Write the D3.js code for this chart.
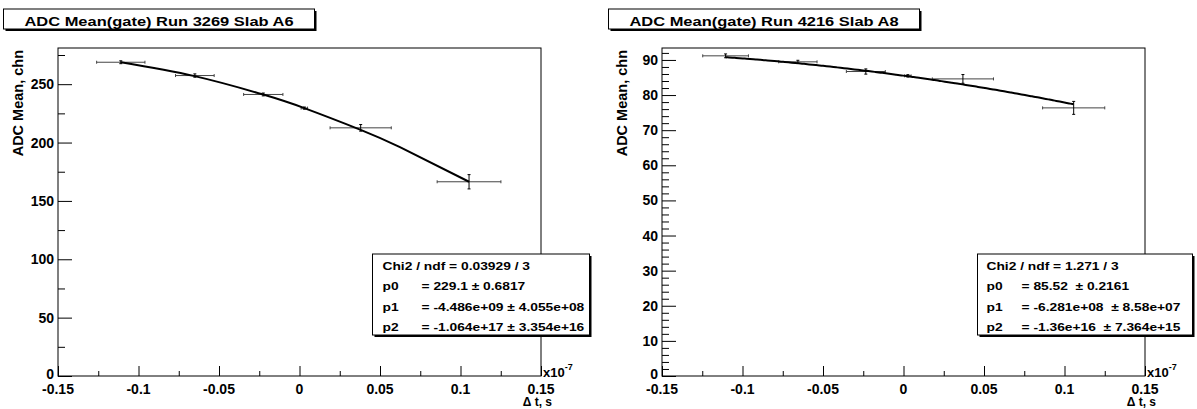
<!DOCTYPE html>
<html><head><meta charset="utf-8">
<script src="https://cdn.jsdelivr.net/npm/d3@7"></script>
<style>
body{margin:0;background:#fff;}
svg{display:block;font-family:"Liberation Sans",Arial,Helvetica,sans-serif;font-weight:bold;}
</style></head>
<body>
<svg id="c" width="1197" height="409"></svg>
<script>
// ---- data ----
const titles = ["ADC Mean(gate) Run 3269 Slab A6", "ADC Mean(gate) Run 4216 Slab A8"];
const xTicks = [-0.15, -0.1, -0.05, 0, 0.05, 0.1, 0.15];
const xTickLabels = ["-0.15", "-0.1", "-0.05", "0", "0.05", "0.1", "0.15"];

const leftX    = [-0.111, -0.065, -0.0225, 0.003, 0.038, 0.1053];
const leftXErr = [0.015, 0.012, 0.0122, 0.002, 0.019, 0.0198];
const leftY    = [268.8, 257.4, 241.2, 229.5, 212.6, 166.4];
const leftYErr = [0.8, 1.0, 0.8, 0.5, 2.4, 5.7];
const leftYTicks = [0, 50, 100, 150, 200, 250];
const leftYMax = 281;
// fitted curve as drawn in the picture
const leftCurveX = [-0.1109, -0.0651, -0.0225, 0.003, 0.038, 0.0624, 0.1053];
const leftCurveY = [268.8, 256.9, 241.1, 229.5, 210.9, 196.0, 166.4];
const leftStats = [["Chi2 / ndf = 0.03929 / 3", ""], ["p0", "= 229.1 \u00b1 0.6817"], ["p1", "= -4.486e+09 \u00b1 4.055e+08"], ["p2", "= -1.064e+17 \u00b1 3.354e+16"]];

const rightX    = [-0.1105, -0.0656, -0.0234, 0.0027, 0.0369, 0.1057];
const rightXErr = [0.0142, 0.0119, 0.0121, 0.002, 0.019, 0.0193];
const rightY    = [91.17, 89.46, 86.7, 85.47, 84.6, 76.35];
const rightYErr = [0.4, 0.3, 0.6, 0.2, 1.1, 1.7];
const rightYTicks = [0, 10, 20, 30, 40, 50, 60, 70, 80, 90];
const rightYMax = 93.4;
const rightFit = [85.52, -6.281e8, -1.36e16];
const rightStats = [["Chi2 / ndf = 1.271 / 3", ""], ["p0", "= 85.52  \u00b1 0.2161"], ["p1", "= -6.281e+08  \u00b1 8.58e+07"], ["p2", "= -1.36e+16  \u00b1 7.364e+15"]];

const svg = d3.select("#c");

function panel(o){
  const g = svg.append("g");
  const x = d3.scaleLinear().domain([-0.15, 0.15]).range([o.x0, o.x1]);
  const y = d3.scaleLinear().domain([0, o.yMax]).range([o.y1, o.y0]);

  // frame
  g.append("rect").attr("x", o.x0).attr("y", o.y0).attr("width", o.x1 - o.x0).attr("height", o.y1 - o.y0)
    .attr("fill", "none").attr("stroke", "#000").attr("stroke-width", 1);

  // x axis
  const xa = d3.axisTop(x).tickValues(xTicks).tickSize(10).tickFormat("");
  g.append("g").attr("transform", `translate(0,${o.y1})`).call(xa)
    .call(s => s.select(".domain").remove());
  const xMinor = d3.range(-0.125, 0.15, 0.05);
  const xm = d3.axisTop(x).tickValues(xMinor).tickSize(5).tickFormat("");
  g.append("g").attr("transform", `translate(0,${o.y1})`).call(xm)
    .call(s => s.select(".domain").remove());
  g.selectAll("text.xl").data(xTicks).enter().append("text").attr("class", "xl")
    .attr("x", d => x(d)).attr("y", o.y1 + 18).attr("text-anchor", "middle")
    .attr("font-size", 14).text((d, i) => xTickLabels[i]);

  // y axis
  const ya = d3.axisRight(y).tickValues(o.yTicks).tickSize(14).tickFormat("");
  g.append("g").attr("transform", `translate(${o.x0},0)`).call(ya)
    .call(s => s.select(".domain").remove());
  const ym = d3.axisRight(y).tickValues(o.yMinor).tickSize(7).tickFormat("");
  g.append("g").attr("transform", `translate(${o.x0},0)`).call(ym)
    .call(s => s.select(".domain").remove());
  g.selectAll("text.yl").data(o.yTicks).enter().append("text").attr("class", "yl")
    .attr("x", o.x0 - 4).attr("y", d => y(d) + (d === 0 ? 3 : 5)).attr("text-anchor", "end")
    .attr("font-size", 14).text(d => d);
  g.selectAll(".tick line").attr("stroke", "#000");

  // axis titles
  g.append("text").attr("transform", `translate(${o.x0 - 35},${o.y0 + 2}) rotate(-90)`)
    .attr("text-anchor", "end").attr("font-size", 14.5).text("ADC Mean, chn");
  g.append("text").attr("x", o.x1 + 11).attr("y", o.y1 + 30).attr("text-anchor", "end")
    .attr("font-size", 12).text("\u0394 t, s");
  const t = g.append("text").attr("x", o.x1 + 2).attr("y", o.y1 + 1).attr("font-size", 13);
  t.append("tspan").text("x10");
  t.append("tspan").attr("dy", -7).attr("font-size", 9).text("-7");

  // error bars
  const n = o.xs.length;
  const eb = g.append("g").attr("stroke", "#444").attr("stroke-width", 1);
  d3.range(n).forEach(i => {
    const cx = x(o.xs[i]), cy = y(o.ys[i]);
    const xl = x(o.xs[i] - o.xe[i]), xr = x(o.xs[i] + o.xe[i]);
    const yt = y(o.ys[i] + o.ye[i]), yb = y(o.ys[i] - o.ye[i]);
    eb.append("line").attr("x1", xl).attr("x2", xr).attr("y1", cy).attr("y2", cy);
    eb.append("line").attr("x1", xl).attr("x2", xl).attr("y1", cy - 1.5).attr("y2", cy + 1.5);
    eb.append("line").attr("x1", xr).attr("x2", xr).attr("y1", cy - 1.5).attr("y2", cy + 1.5);
    eb.append("line").attr("x1", cx).attr("x2", cx).attr("y1", yt - 0.5).attr("y2", yb + 0.5).attr("stroke", "#000");
    eb.append("line").attr("x1", cx - 1.5).attr("x2", cx + 1.5).attr("y1", yt - 0.5).attr("y2", yt - 0.5).attr("stroke", "#000");
    eb.append("line").attr("x1", cx - 1.5).attr("x2", cx + 1.5).attr("y1", yb + 0.5).attr("y2", yb + 0.5).attr("stroke", "#000");
  });

  // fit curve
  let cpts;
  if (o.fit) {
    const xa0 = d3.min(o.xs), xa1 = d3.max(o.xs);
    const f = v => { const s = v * 1e-7; return o.fit[0] + o.fit[1] * s + o.fit[2] * s * s; };
    cpts = d3.range(0, 101).map(k => { const v = xa0 + (xa1 - xa0) * k / 100; return [v, f(v)]; });
  } else {
    cpts = o.cx.map((v, i) => [v, o.cy[i]]);
  }
  g.append("path").datum(cpts).attr("fill", "none").attr("stroke", "#000").attr("stroke-width", 2)
    .attr("d", d3.line().x(d => x(d[0])).y(d => y(d[1])).curve(d3.curveNatural));

  // title box
  g.append("rect").attr("x", o.tx0 + 2).attr("y", 11).attr("width", o.tw).attr("height", 20).attr("fill", "#000");
  g.append("rect").attr("x", o.tx0).attr("y", 9).attr("width", o.tw).attr("height", 20)
    .attr("fill", "#fff").attr("stroke", "#000").attr("stroke-width", 1);
  g.append("text").attr("transform", `translate(${o.tx0 + o.tw / 2},25.5) scale(1.22,1)`)
    .attr("text-anchor", "middle").attr("font-size", 13.5).text(o.title);

  // stats box
  g.append("rect").attr("x", o.sx0 + 2).attr("y", 256).attr("width", o.sw).attr("height", 81).attr("fill", "#000");
  g.append("rect").attr("x", o.sx0).attr("y", 254).attr("width", o.sw).attr("height", 81)
    .attr("fill", "#fff").attr("stroke", "#000").attr("stroke-width", 1);
  const baselines = [270, 290, 310.5, 330.5];
  o.stats.forEach((s, i) => {
    g.append("text").attr("transform", `translate(${o.sx0 + o.lOff},${baselines[i]}) scale(1.2,1)`)
      .attr("font-size", 11.5).style("white-space", "pre").text(s[0]);
    if (s[1]) g.append("text").attr("transform", `translate(${o.sx0 + o.eOff},${baselines[i]}) scale(1.2,1)`)
      .attr("font-size", 11.5).style("white-space", "pre").text(s[1]);
  });
}

panel({x0: 58, x1: 541, y0: 48, y1: 376, yMax: leftYMax, yTicks: leftYTicks,
  yMinor: d3.range(25, 281, 50), xs: leftX, xe: leftXErr, ys: leftY, ye: leftYErr,
  cx: leftCurveX, cy: leftCurveY,
  title: titles[0], tx0: 3.5, tw: 311, sx0: 372.5, sw: 217, lOff: 10, eOff: 49, stats: leftStats});
panel({x0: 662, x1: 1145, y0: 48, y1: 376, yMax: rightYMax, yTicks: rightYTicks,
  yMinor: d3.range(0, 93.4, 2).filter(v => v % 10 !== 0), xs: rightX, xe: rightXErr, ys: rightY, ye: rightYErr, fit: rightFit,
  title: titles[1], tx0: 608.5, tw: 311, sx0: 977.5, sw: 215, lOff: 9, eOff: 44, stats: rightStats});
</script>
</body></html>
